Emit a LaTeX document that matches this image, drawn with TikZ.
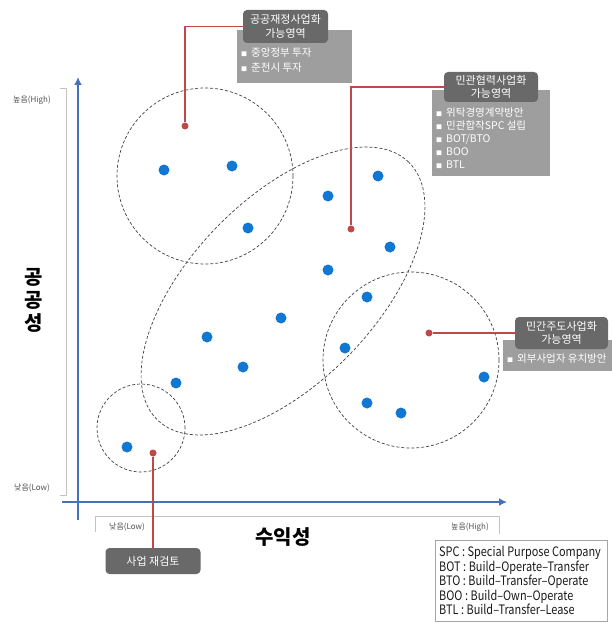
\documentclass[tikz,border=0pt]{standalone}
\usepackage{fontspec}
\setmainfont{Noto Sans CJK KR}
\newfontfamily\legendfont{Noto Sans CJK KR}[FakeStretch=0.84]
\usetikzlibrary{arrows.meta,positioning}
\definecolor{axisblue}{RGB}{68,114,186}
\definecolor{dotblue}{RGB}{16,120,210}
\definecolor{markred}{RGB}{192,72,72}
\definecolor{darkgrey}{RGB}{105,105,105}
\definecolor{lightgrey}{RGB}{158,158,158}
\definecolor{bracketgrey}{RGB}{195,195,195}
\definecolor{labelgrey}{RGB}{80,80,80}
\newcommand{\sqbullet}{{\fontsize{6}{6}\selectfont ■}\hspace{4pt}}
\newcommand{\tightspace}{\spaceskip=2.5pt plus 1pt\relax}

\begin{document}
\begin{tikzpicture}[x=1pt, y=-1pt,
head/.style={fill=darkgrey, text=white, rounded corners=4pt, align=center, inner sep=0pt, font=\fontsize{11}{13.5}\selectfont},
panel/.style={fill=lightgrey, anchor=north west, inner sep=0pt},
items/.style={text=white, anchor=north west, align=left, inner sep=0pt, font=\fontsize{10.5}{15}\selectfont},
dot/.style={circle, fill=dotblue, inner sep=0pt, minimum size=11pt},
marker/.style={circle, fill=markred, inner sep=0pt, minimum size=7pt},
zone/.style={draw=black!75, densely dashed, line width=0.7pt},
link/.style={draw=markred, line width=1.3pt},
axis/.style={axisblue, line width=2.5pt, -{Latex[length=8pt,width=8pt]}},
bracket/.style={bracketgrey, line width=0.8pt},
ticklabel/.style={text=labelgrey, inner sep=0pt, font=\fontsize{8}{8}\selectfont},
axislabel/.style={inner sep=0pt, align=center, font=\bfseries\fontsize{20}{23}\selectfont}]
\useasboundingbox (0,0) rectangle (612,623);

% axes
\coordinate (ybot) at (78,520);
\coordinate (ytop) at (78,77);
\coordinate (xleft) at (62,502);
\coordinate (xright) at (507,502);
\draw[axis] (ybot) -- (ytop);
\draw[axis] (xleft) -- (xright);
\draw[bracket] (60,88) -- (66,88) -- (66,495) -- (60,495);
\draw[bracket] (95,532) -- (95,516) -- (499,516) -- (499,534);
\node[ticklabel] (yhigh) at (32,100) {높음(High)};
\node[ticklabel] (ylow) at (32,488) {낮음(Low)};
\node[ticklabel] (xlow) at (127,527) {낮음(Low)};
\node[ticklabel] (xhigh) at (470,527) {높음(High)};
\node[axislabel] (ytitle) at (34,300) {공\\공\\성};
\node[axislabel] (xtitle) at (283,537) {수익성};

% zones
\draw[zone] (205,176) circle[radius=88pt];
\draw[zone] (411,360) circle[radius=88pt];
\draw[zone] (141,428) circle[radius=44pt];
\begin{scope}[shift={(283,291)}, rotate=45.7]
\draw[zone] (0,0) ellipse[x radius=180pt, y radius=92pt];
\end{scope}

% projects
\node[dot] (p1) at (164,170) {};
\node[dot] (p2) at (232,166) {};
\node[dot] (p3) at (248,228) {};
\node[dot] (p4) at (328,196) {};
\node[dot] (p5) at (378,176) {};
\node[dot] (p6) at (390,247) {};
\node[dot] (p7) at (328,270) {};
\node[dot] (p8) at (367,297) {};
\node[dot] (p9) at (281,318) {};
\node[dot] (p10) at (207,337) {};
\node[dot] (p11) at (243,367) {};
\node[dot] (p12) at (176,383) {};
\node[dot] (p13) at (345,348) {};
\node[dot] (p14) at (367,403) {};
\node[dot] (p15) at (401,413) {};
\node[dot] (p16) at (484,377) {};
\node[dot] (p17) at (127,447) {};

% callouts
\node[marker] (m1) at (185,126) {};
\node[marker] (m2) at (351,229) {};
\node[marker] (m3) at (429,333) {};
\node[marker] (m4) at (153,453) {};

\node[panel, minimum width=115pt, minimum height=53pt] (l1) at (237,30) {};
\node[panel, minimum width=118pt, minimum height=86pt] (l2) at (432,90) {};
\node[panel, minimum width=115pt, minimum height=31pt] (l3) at (503,340) {};

\node[head, minimum width=85pt, minimum height=33pt] (h1) at (285.5,26.5) {공공재정사업화\\가능영역};
\node[head, minimum width=94pt, minimum height=30pt] (h2) at (491,87) {민관협력사업화\\가능영역};
\node[head, minimum width=93pt, minimum height=32pt] (h3) at (561.5,333) {민간주도사업화\\가능영역};
\node[head, minimum width=95pt, minimum height=26pt] (h4) at (153,561) {사업 재검토};

\node[items, below right=18pt and 4pt of l1.north west] (t1) {\sqbullet 중앙정부 투자\\\sqbullet 춘천시 투자};
\node[items, below right=18pt and 4pt of l2.north west, font=\fontsize{10.5}{13}\selectfont] (t2) {\sqbullet 위탁경영계약방안\\\sqbullet 민관합작SPC 설립\\\sqbullet BOT/BTO\\\sqbullet BOO\\\sqbullet BTL};
\node[items, below right=14pt and 4pt of l3.north west] (t3) {\sqbullet 외부사업자 유치방안};

\draw[link] (m1) |- (h1);
\draw[link] (m2) |- (h2);
\draw[link] (m3) -- (h3);
\draw[link] (m4) -- (h4);

% legend
\node[draw=black!35, anchor=north west, align=left, inner xsep=4pt, inner ysep=6pt, text width=164pt, text=black!90, font=\legendfont\fontsize{13}{14.5}\selectfont] (legend) at (435,540) {\tightspace SPC : Special Purpose Company\\BOT : Build–Operate–Transfer\\BTO : Build–Transfer–Operate\\BOO : Build–Own–Operate\\BTL : Build–Transfer–Lease};
\end{tikzpicture}
\end{document}
